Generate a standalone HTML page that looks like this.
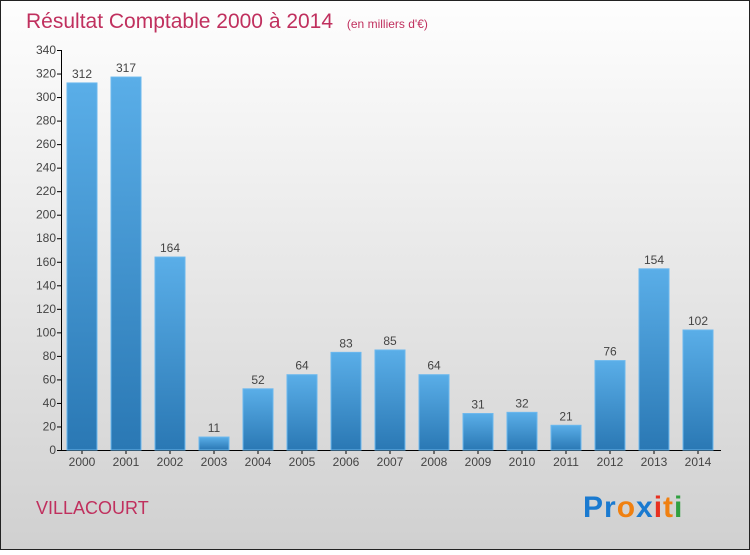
<!DOCTYPE html>
<html><head><meta charset="utf-8"><style>
body{margin:0;width:750px;height:550px;overflow:hidden;font-family:"Liberation Sans",sans-serif}
</style></head><body>
<svg width="750" height="550" xmlns="http://www.w3.org/2000/svg">
<defs>
<linearGradient id="bg" x1="0" y1="0" x2="0" y2="1"><stop offset="0" stop-color="#fefefe"/><stop offset="1" stop-color="#d0d0d0"/></linearGradient>
<linearGradient id="bar" x1="0" y1="0" x2="0" y2="1"><stop offset="0" stop-color="#5aaee8"/><stop offset="1" stop-color="#2a78b4"/></linearGradient>
</defs>
<rect x="0.5" y="0.5" width="749" height="549" fill="url(#bg)" stroke="#222"/>
<text x="26" y="28" font-size="21" fill="#c0305e">Résultat Comptable 2000 à 2014 <tspan font-size="12" dx="8">(en milliers d'€)</tspan></text>
<g id="axes"></g>
<g id="bars"></g>
<text x="36" y="514" font-size="18" fill="#c0305e">VILLACOURT</text>
<text x="583" y="517" font-size="30" font-weight="bold" letter-spacing="1"><tspan fill="#1a7ad0">Pr</tspan><tspan fill="#f08010">o</tspan><tspan fill="#1a7ad0">x</tspan><tspan fill="#e83020">i</tspan><tspan fill="#f08010">t</tspan><tspan fill="#30a040">i</tspan></text>
</svg>
<script>
const years=["2000","2001","2002","2003","2004","2005","2006","2007","2008","2009","2010","2011","2012","2013","2014"];
const values=[312,317,164,11,52,64,83,85,64,31,32,21,76,154,102];
const yTicks=[0,20,40,60,80,100,120,140,160,180,200,220,240,260,280,300,320,340];
const NS="http://www.w3.org/2000/svg";
const y0=450,yMax=340,pxH=400,x0=82,step=44,bw=30;
const y=v=>y0-v/yMax*pxH, x=i=>x0+i*step;
function mk(tag,attrs,parent,text){const e=document.createElementNS(NS,tag);for(const k in attrs)e.setAttribute(k,attrs[k]);if(text!==undefined)e.textContent=text;parent.appendChild(e);return e;}
const ax=document.getElementById('axes'), bg=document.getElementById('bars');
let l=mk('line',{x1:61.5,y1:50,x2:61.5,y2:450.5,stroke:'#000'},ax);


l=mk('line',{x1:61,y1:450.5,x2:721,y2:450.5,stroke:'#000'},ax);


yTicks.forEach(t=>{
  const tk=mk('line',{x1:57,x2:62,y1:y(t)+.5,y2:y(t)+.5,stroke:'#000'},ax);
  
  
  const tl=mk('text',{x:56,y:y(t)+4,'font-size':12,'text-anchor':'end',fill:'#444'},ax,String(t));
  
  
});
years.forEach((yr,i)=>{
  const v=values[i];
  const r=mk('rect',{x:x(i)-bw/2,y:y(v),width:bw,height:y0-y(v),fill:'url(#bar)',stroke:'#6bb8ee','stroke-width':1},bg);
  
  
  const vl=mk('text',{x:x(i),y:y(v)-5,'font-size':12,'text-anchor':'middle',fill:'#444'},bg,String(v));
  
  
  const tk=mk('line',{x1:x(i),x2:x(i),y1:450,y2:454,stroke:'#000'},ax);
  
  
  const xl=mk('text',{x:x(i),y:466,'font-size':12,'text-anchor':'middle',fill:'#444'},ax,yr);
  
  
});
</script>
</body></html>
